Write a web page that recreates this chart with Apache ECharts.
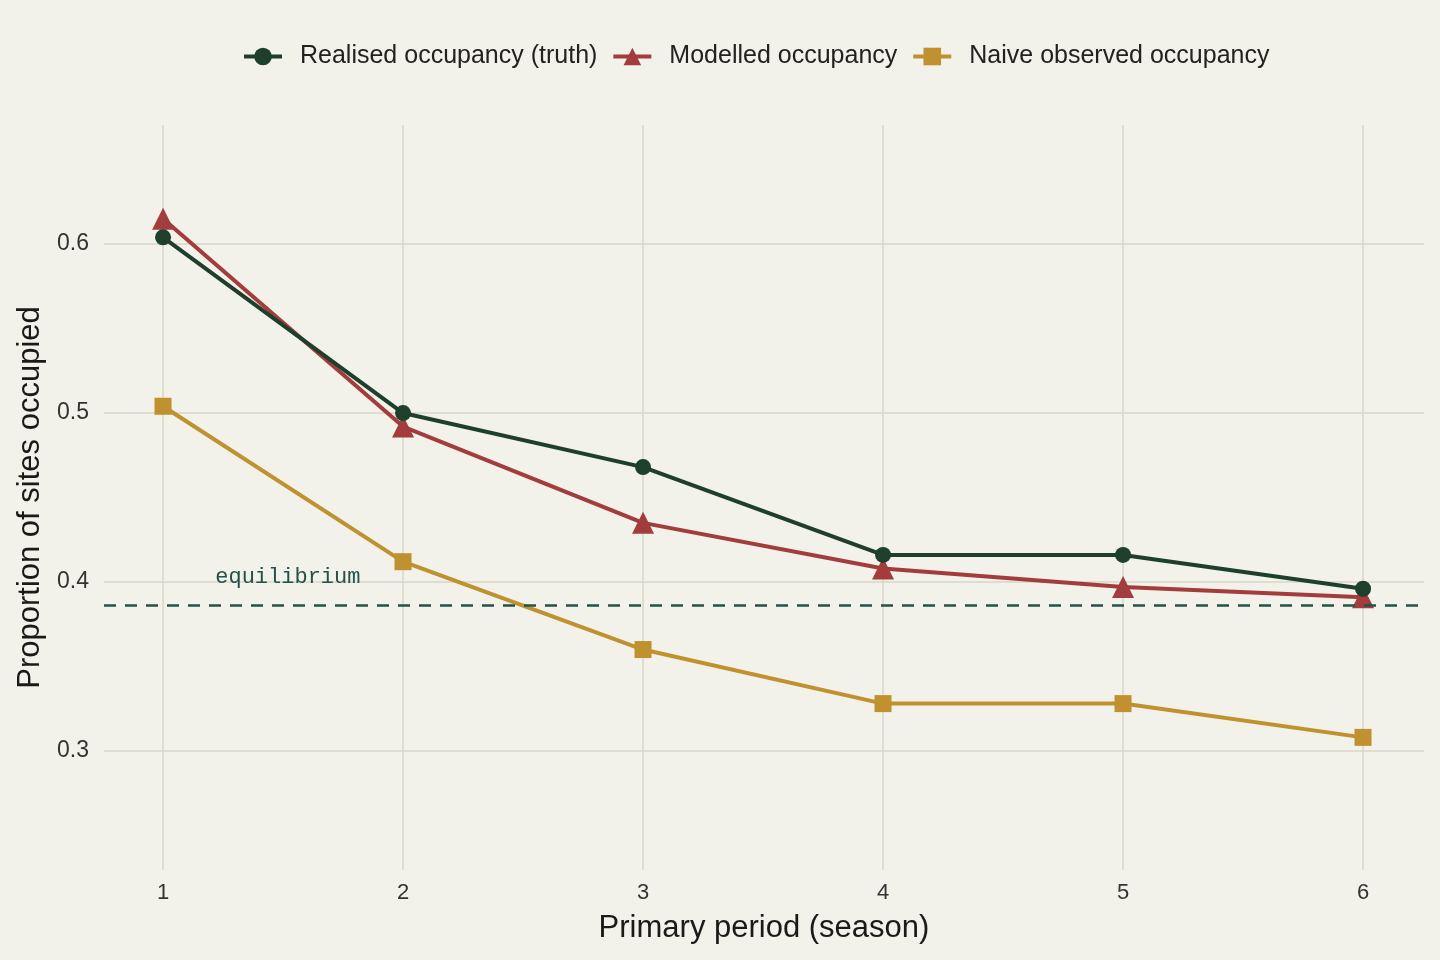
<!DOCTYPE html>
<html>
<head>
<meta charset="utf-8">
<script src="https://cdn.jsdelivr.net/npm/echarts@6/dist/echarts.min.js"></script>
<style>
html,body{margin:0;padding:0;background:#f2f1ea;}
#chart{width:1440px;height:960px;}
</style>
</head>
<body>
<div id="chart"></div>
<script>
const periods = [1, 2, 3, 4, 5, 6];
const truth = [0.604, 0.500, 0.468, 0.416, 0.416, 0.396];
const modelled = [0.615, 0.492, 0.435, 0.408, 0.397, 0.391];
const naive = [0.504, 0.412, 0.360, 0.328, 0.328, 0.308];
const yTicks = [0.3, 0.4, 0.5, 0.6];
const equilibrium = 0.386;
const equilibriumLabelX = 1.52;

const pairs = arr => periods.map((p, i) => [p, arr[i]]);

const chart = echarts.init(document.getElementById('chart'), null, {renderer: 'canvas'});
const textColor = '#333333';
const gridColor = '#d7d6c6';
const font = 'Liberation Sans, Arial, sans-serif';

chart.setOption({
  backgroundColor: '#f2f1ea',
  animation: false,
  textStyle: {fontFamily: font},
  legend: {
    top: 39,
    left: 237,
    itemWidth: 38,
    itemHeight: 22,
    itemGap: 14,
    lineStyle: {width: 4},
    textStyle: {fontSize: 25, color: '#222222', fontFamily: font, padding: [0, 0, 0, 13]},
    data: ['Realised occupancy (truth)', 'Modelled occupancy', 'Naive observed occupancy']
  },
  grid: {left: 104, right: 16, top: 125, bottom: 90, containLabel: false, outerBoundsMode: 'none'},
  xAxis: {
    type: 'value',
    min: 0.754,
    max: 6.254,
    name: 'Primary period (season)',
    nameLocation: 'middle',
    nameGap: 43,
    nameTextStyle: {fontSize: 31, color: '#1a1a1a'},
    axisLine: {show: false},
    axisTick: {show: false, customValues: periods},
    axisLabel: {customValues: periods, fontSize: 22, color: textColor, margin: 12},
    splitLine: {show: true, lineStyle: {color: gridColor, width: 1.5}}
  },
  yAxis: {
    type: 'value',
    min: 0.2295,
    max: 0.6705,
    name: 'Proportion of sites occupied',
    nameLocation: 'middle',
    nameGap: 56,
    nameTextStyle: {fontSize: 31, color: '#1a1a1a'},
    axisLine: {show: false},
    axisTick: {show: false, customValues: yTicks},
    axisLabel: {customValues: yTicks, fontSize: 23, color: textColor, margin: 15, formatter: v => v.toFixed(1)},
    splitLine: {show: true, lineStyle: {color: gridColor, width: 1.5}}
  },
  series: [
    {
      name: 'Realised occupancy (truth)',
      type: 'line',
      data: pairs(truth),
      symbol: 'circle',
      symbolSize: 16,
      z: 4,
      itemStyle: {color: '#1e3f2c'},
      lineStyle: {color: '#1e3f2c', width: 4},
      markLine: {
        silent: true,
        symbol: 'none',
        precision: 4,
        label: {show: false},
        lineStyle: {color: '#24514a', type: [12, 9], width: 2.5},
        data: [{yAxis: equilibrium}]
      },
      markPoint: {
        silent: true,
        symbol: 'circle',
        symbolSize: 0,
        label: {
          show: true,
          formatter: 'equilibrium',
          fontFamily: 'Liberation Mono, DejaVu Sans Mono, monospace',
          fontSize: 22,
          color: '#24514a',
          offset: [0, -28]
        },
        data: [{coord: [equilibriumLabelX, equilibrium]}]
      }
    },
    {
      name: 'Modelled occupancy',
      type: 'line',
      data: pairs(modelled),
      symbol: 'triangle',
      symbolSize: 22,
      z: 3,
      itemStyle: {color: '#a33c3c'},
      lineStyle: {color: '#a33c3c', width: 4}
    },
    {
      name: 'Naive observed occupancy',
      type: 'line',
      data: pairs(naive),
      symbol: 'rect',
      symbolSize: 17,
      z: 2,
      itemStyle: {color: '#c0912f'},
      lineStyle: {color: '#c0912f', width: 4}
    }
  ]
});
</script>
</body>
</html>
